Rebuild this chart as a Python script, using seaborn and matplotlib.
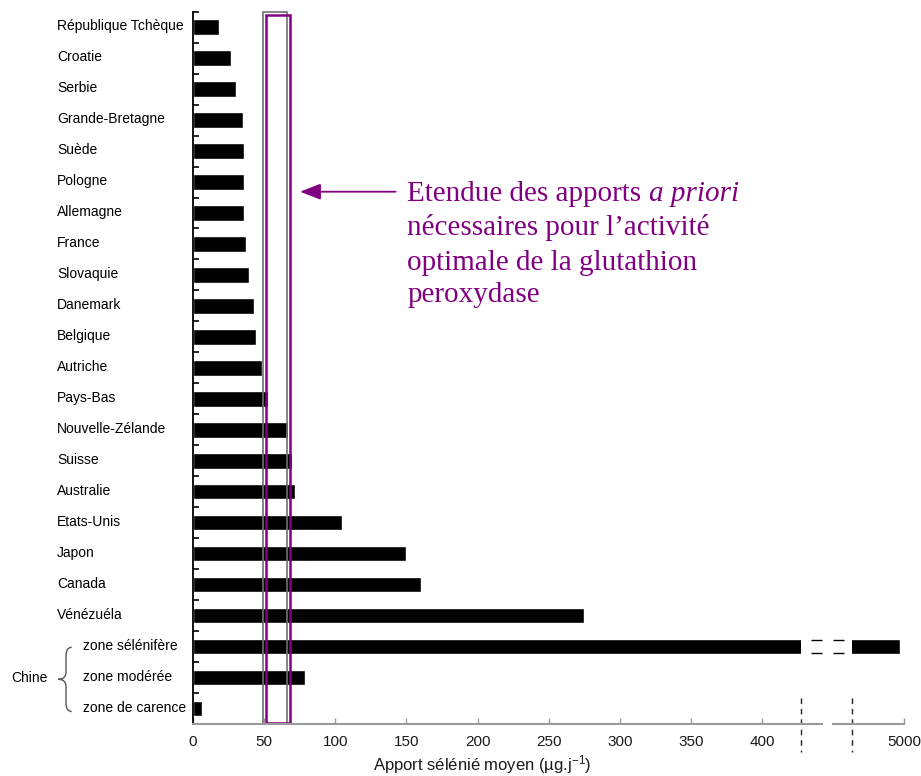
import numpy as np
import pandas as pd
import seaborn as sns
import matplotlib.pyplot as plt
from matplotlib import transforms
from matplotlib.patches import Rectangle, PathPatch
from matplotlib.path import Path

# mean selenium intake by country (µg/day)
labels = [
    "République Tchèque", "Croatie", "Serbie", "Grande-Bretagne", "Suède",
    "Pologne", "Allemagne", "France", "Slovaquie", "Danemark", "Belgique",
    "Autriche", "Pays-Bas", "Nouvelle-Zélande", "Suisse", "Australie",
    "Etats-Unis", "Japon", "Canada", "Vénézuéla",
    "zone sélénifère", "zone modérée", "zone de carence",
]
intake = [
    18, 27, 30.5, 35, 36,
    36, 36, 37, 39, 43, 44.5,
    48.5, 53, 67, 69.5, 72,
    104.5, 150, 160, 275,
    4997, 79, 6,
]
china_zones = ["zone sélénifère", "zone modérée", "zone de carence"]
china_label = "Chine"
gpx_band = [49.5, 66.3]          # range needed for optimal glutathion peroxydase
main_ticks = [0, 50, 100, 150, 200, 250, 300, 350, 400]
break_ticks = [5000]
main_lim = (0, 442)
break_lim = (4950, 5000)
break_at = (427.4, 4963.4)

annot_lines = [
    "nécessaires pour l’activité",
    "optimale de la glutathion",
    "peroxydase",
]

PURPLE = "#800080"
W, H = 921, 776

sns.set_theme(style="white")
plt.rcParams["font.family"] = ["Liberation Sans", "DejaVu Sans"]
plt.rcParams["mathtext.fontset"] = "custom"
plt.rcParams["mathtext.rm"] = "Liberation Sans"
plt.rcParams["mathtext.it"] = "Liberation Sans:italic"

df = pd.DataFrame({"label": labels, "intake": intake})
n = len(labels)

fig = plt.figure(figsize=(W / 100, H / 100), dpi=100)
ax_bottom, ax_height = 1 - 724 / H, (724 - 11.7) / H
ax = fig.add_axes([193 / W, ax_bottom, (822 - 193) / W, ax_height])
axr = fig.add_axes([833 / W, ax_bottom, (904 - 833) / W, ax_height])

for a in (ax, axr):
    sns.barplot(data=df, x="intake", y="label", orient="h", color="black",
                saturation=1, width=0.5, errorbar=None, ax=a)
    a.set_ylim(n - 0.5, -0.5)
    a.set_xlabel("")
    a.set_ylabel("")
    for side in ("top", "right"):
        a.spines[side].set_visible(False)
    a.spines["bottom"].set_color("#9a9a9a")
    a.spines["bottom"].set_linewidth(1.5)
    a.tick_params(axis="x", bottom=True, direction="in", length=4, width=1,
                  color="#9a9a9a", labelsize=11, pad=8, labelcolor="#1a1a1a")

ax.set_xlim(*main_lim)
axr.set_xlim(*break_lim)
ax.set_xticks(main_ticks)
axr.set_xticks(break_ticks)

# cut the huge bar at the break on each side
sel = labels.index("zone sélénifère")
bar_l = ax.containers[0][sel]
bar_l.set_clip_path(Rectangle((0, -0.5), break_at[0], n, transform=ax.transData))
bar_r = axr.containers[0][sel]
bar_r.set_clip_path(Rectangle((break_at[1], -0.5), 100, n, transform=axr.transData))

# y axis: ticks between categories, labels drawn left-aligned
ax.spines["left"].set_color("black")
ax.spines["left"].set_linewidth(1.3)
ax.set_yticks(range(n))
ax.set_yticklabels([])
ax.set_yticks(np.arange(-0.5, n - 1), minor=True)
ax.tick_params(axis="y", which="major", left=False, length=0)
ax.tick_params(axis="y", which="minor", left=True, direction="in",
               length=4, width=1.2, color="black")
axr.spines["left"].set_visible(False)
axr.set_yticks([])

trans = transforms.blended_transform_factory(fig.transFigure, ax.transData)
for i, lab in enumerate(labels):
    x = 83 if lab in china_zones else 57
    ax.text(x / W, i - 0.03, lab, transform=trans, ha="left", va="center",
            fontsize=10, color="black")
ax.text(11.7 / W, labels.index("zone modérée"), china_label, transform=trans,
        ha="left", va="center", fontsize=10, color="black")

# brace for the China zones
pts = [(71.7, 647.3), (66, 647.3), (66, 656), (66, 672), (66, 679.3), (58.3, 679.3),
       (66, 679.3), (66, 686.6), (66, 703), (66, 711.5), (71.7, 711.5)]
codes = [Path.MOVETO, Path.CURVE3, Path.CURVE3, Path.LINETO, Path.CURVE3, Path.CURVE3,
         Path.CURVE3, Path.CURVE3, Path.LINETO, Path.CURVE3, Path.CURVE3]
brace = Path([(x / W, 1 - y / H) for x, y in pts], codes)
fig.add_artist(PathPatch(brace, transform=fig.transFigure, fill=False,
                         edgecolor="#555555", lw=1))

# axis break marks
for a, xv in ((ax, break_at[0]), (axr, break_at[1])):
    a.plot([xv, xv], [0.037, -0.039], transform=a.get_xaxis_transform(),
           color="#222222", lw=1, ls=(0, (4, 3.5)), clip_on=False)
ax.hlines([sel - 0.2, sel + 0.21], 434.5, main_lim[1], color="black", lw=1, clip_on=False)
axr.hlines([sel - 0.2, sel + 0.21], break_lim[0], 4957.7, color="black", lw=1, clip_on=False)

# optimal range band
ax.add_patch(Rectangle((gpx_band[0], -0.5), gpx_band[1] - gpx_band[0], n,
                       fill=False, edgecolor="#707070", lw=1.2, clip_on=False))
ax.add_patch(Rectangle((gpx_band[0] + 1.6, 0.002), gpx_band[1] - gpx_band[0], 0.993,
                       transform=ax.get_xaxis_transform(), fill=False,
                       edgecolor=PURPLE, lw=1.8, clip_on=False))

# annotation
y_arrow = (191.7 - 11.7) / ((724 - 11.7) / n) - 0.5
ax.annotate("", xy=(75.2, y_arrow), xytext=(142.4, y_arrow),
            arrowprops=dict(arrowstyle="-|>,head_length=0.9,head_width=0.35",
                            color=PURPLE, lw=1.3, shrinkA=0, shrinkB=0,
                            mutation_scale=14))
serif = ["Liberation Serif", "DejaVu Serif"]
t1 = fig.text(407.3 / W, 1 - 201 / H, "Etendue des apports ", family=serif,
              fontsize=21, color=PURPLE, va="baseline", ha="left")
ax.annotate("a priori", xy=(1, 0), xycoords=t1, ha="left", va="bottom",
            family=serif, fontstyle="italic", fontsize=21, color=PURPLE)
for txt, yb in zip(annot_lines, [235.3, 270, 301.7]):
    fig.text(407.3 / W, 1 - yb / H, txt, family=serif, fontsize=21,
             color=PURPLE, va="baseline", ha="left")

fig.text(482.5 / W, 1 - 765 / H, r"Apport sélénié moyen (µg.j$^{-1}$)",
         ha="center", va="center", fontsize=12, color="#1a1a1a")

fig.savefig("out.png", dpi=100)
